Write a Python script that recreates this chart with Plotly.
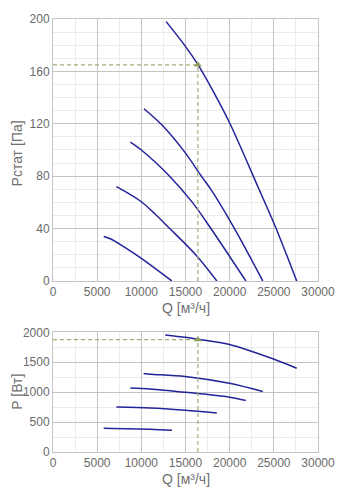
import plotly.graph_objects as go

# ---- data ----
q_pstat = [
    [12810, 14950, 16370, 18200, 20030, 23260, 25200, 27590],
    [10300, 12340, 15000, 16800, 17910, 20500, 23750],
    [8757, 10000, 13200, 15800, 17780, 21830],
    [7170, 8380, 10000, 11500, 13070, 16080, 18550],
    [5740, 6490, 8000, 10000, 13450],
]
pstat = [
    [198, 179.5, 165.5, 144, 120.2, 71, 41, 0],
    [131.5, 119, 97.6, 80, 69.5, 40.5, 0],
    [106, 100, 80, 59.8, 41, 0],
    [72, 67.5, 60.5, 51.5, 41, 20.5, 0],
    [34, 32.2, 26.2, 17.2, 0],
]
q_power = [
    [12710, 14970, 16370, 19980, 25030, 27590],
    [10260, 11020, 14970, 19980, 23750],
    [8757, 11020, 14970, 19980, 21830],
    [7175, 11020, 14970, 18550],
    [5740, 11020, 13470],
]
power = [
    [1956, 1917, 1885, 1797, 1550, 1400],
    [1313, 1302, 1263, 1148, 1011],
    [1072, 1055, 999, 917, 862],
    [752, 735, 697, 653],
    [395, 379, 362],
]
op_q = 16400
op_pstat = 165
op_power = 1880

x_ticks = [0, 5000, 10000, 15000, 20000, 25000, 30000]
y1_ticks = [0, 40, 80, 120, 160, 200]
y2_ticks = [0, 500, 1000, 1500, 2000]

# ---- style ----
CURVE = "#23239a"
OPC = "#a3ad7c"
OPM = "#8d9c5c"
FONT = "Arial, Liberation Sans, sans-serif"
MAJ = "#c4c4c4"
MIN = "#ebebeb"

fig = go.Figure()
for qs, ps in zip(q_pstat, pstat):
    fig.add_trace(go.Scatter(x=qs, y=ps, mode="lines",
                             line=dict(color=CURVE, width=1.5, shape="spline", smoothing=0.9),
                             xaxis="x", yaxis="y", hoverinfo="skip", showlegend=False))
for qs, ps in zip(q_power, power):
    fig.add_trace(go.Scatter(x=qs, y=ps, mode="lines",
                             line=dict(color=CURVE, width=1.5, shape="spline", smoothing=0.9),
                             xaxis="x2", yaxis="y2", hoverinfo="skip", showlegend=False))

for xa, ya, pv in (("x", "y", op_pstat), ("x2", "y2", op_power)):
    fig.add_trace(go.Scatter(x=[0, op_q], y=[pv, pv], mode="lines",
                             line=dict(color=OPC, width=1.2, dash="4px,3px"),
                             xaxis=xa, yaxis=ya, hoverinfo="skip", showlegend=False))
    fig.add_trace(go.Scatter(x=[op_q, op_q], y=[0, pv], mode="lines",
                             line=dict(color=OPC, width=1.2, dash="4px,3px"),
                             xaxis=xa, yaxis=ya, hoverinfo="skip", showlegend=False))
    fig.add_trace(go.Scatter(x=[op_q], y=[pv], mode="markers",
                             marker=dict(symbol="triangle-up", size=7, color=OPM),
                             xaxis=xa, yaxis=ya, hoverinfo="skip", showlegend=False))

L, R, T, B = 53, 38, 14, 48
W, H = 356, 500
ph = H - T - B
top_dom = [(H - B - 279) / ph, 1.0]
bot_dom = [0.0, (H - B - 331) / ph]

axis_common = dict(showgrid=True, gridcolor=MAJ, gridwidth=1, zeroline=False,
                   showline=True, linecolor=MAJ, linewidth=1, mirror=True,
                   ticks="", tickfont=dict(family=FONT, size=12, color="#6a6a6a"))

fig.update_layout(
    width=W, height=H,
    margin=dict(l=L, r=R, t=T, b=B),
    paper_bgcolor="white", plot_bgcolor="white",
    xaxis=dict(range=[0, 30000], tickvals=x_ticks, ticktext=[str(v) for v in x_ticks],
               minor=dict(dtick=2500, tick0=0, showgrid=True, gridcolor=MIN),
               anchor="y", domain=[0, 1], **axis_common),
    yaxis=dict(range=[0, 200], tickvals=y1_ticks, ticktext=[str(v) for v in y1_ticks],
               minor=dict(dtick=10, tick0=0, showgrid=True, gridcolor=MIN),
               anchor="x", domain=top_dom, **axis_common),
    xaxis2=dict(range=[0, 30000], tickvals=x_ticks, ticktext=[str(v) for v in x_ticks],
                minor=dict(dtick=2500, tick0=0, showgrid=True, gridcolor=MIN),
                anchor="y2", domain=[0, 1], **axis_common),
    yaxis2=dict(range=[0, 2000], tickvals=y2_ticks, ticktext=[str(v) for v in y2_ticks],
                minor=dict(dtick=250, tick0=0, showgrid=True, gridcolor=MIN),
                anchor="x2", domain=bot_dom, **axis_common),
)

def py(pix):
    return (H - B - pix) / ph

def px(pix):
    return (pix - L) / (W - L - R)

title_font = dict(family=FONT, size=14, color="#707070")
fig.add_annotation(text="Q [м³/ч]", xref="paper", yref="paper", x=px(185.5), y=py(306),
                   showarrow=False, font=title_font, xanchor="center", yanchor="middle")
fig.add_annotation(text="Q [м³/ч]", xref="paper", yref="paper", x=px(185.5), y=py(479),
                   showarrow=False, font=title_font, xanchor="center", yanchor="middle")
fig.add_annotation(text="Рстат [Па]", xref="paper", yref="paper", x=px(17), y=py(150),
                   showarrow=False, font=title_font, textangle=-90, xanchor="center", yanchor="middle")
fig.add_annotation(text="P [Вт]", xref="paper", yref="paper", x=px(17), y=py(391),
                   showarrow=False, font=title_font, textangle=-90, xanchor="center", yanchor="middle")

fig.write_html("out.html", config={"displayModeBar": False},
               post_script="document.body.style.margin='0px';")
